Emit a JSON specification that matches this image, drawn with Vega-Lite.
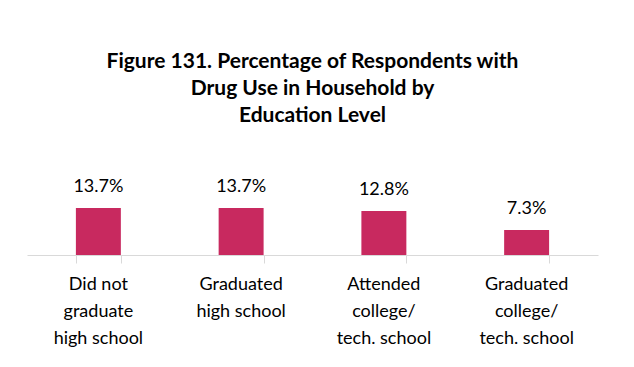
{
  "$schema": "https://vega.github.io/schema/vega-lite/v6.json",
  "width": 571,
  "height": 55,
  "autosize": {"type": "none"},
  "padding": {"left": 27, "top": 200, "right": 36, "bottom": 112},
  "background": "white",
  "title": {
    "text": ["Figure 131. Percentage of Respondents with", "Drug Use in Household by", "Education Level"],
    "font": "Lato",
    "fontSize": 21,
    "fontWeight": "bold",
    "color": "#000000",
    "lineHeight": 27,
    "anchor": "middle",
    "frame": "group",
    "offset": 52
  },
  "data": {
    "values": [
      {"level": "Did not graduate high school", "pct": 0.137},
      {"level": "Graduated high school", "pct": 0.137},
      {"level": "Attended college/ tech. school", "pct": 0.128},
      {"level": "Graduated college/ tech. school", "pct": 0.073}
    ]
  },
  "encoding": {
    "y": {
      "field": "pct",
      "type": "quantitative",
      "scale": {"domain": [0, 0.16]},
      "axis": null
    }
  },
  "layer": [
    {
      "mark": {"type": "bar", "color": "#C8295F"},
      "encoding": {
        "x": {
          "field": "level",
          "type": "nominal",
          "sort": null,
          "scale": {"paddingInner": 0.685, "paddingOuter": 0.3425},
          "axis": {
            "orient": "bottom",
            "title": null,
            "labelAngle": 0,
            "labelFont": "Lato",
            "labelFontSize": 18,
            "labelColor": "#000000",
            "labelLineHeight": 27,
            "labelPadding": 20,
            "labelBaseline": "top",
            "labelExpr": "datum.value == 'Did not graduate high school' ? ['Did not', 'graduate', 'high school'] : datum.value == 'Graduated high school' ? ['Graduated', 'high school'] : datum.value == 'Attended college/ tech. school' ? ['Attended', 'college/', 'tech. school'] : ['Graduated', 'college/', 'tech. school']",
            "ticks": false,
            "domainColor": "#d9d9d9",
            "labelLimit": 200
          }
        }
      }
    },
    {
      "mark": {"type": "text", "font": "Lato", "fontSize": 18, "color": "#000000", "baseline": "alphabetic", "dy": -16},
      "encoding": {
        "x": {
          "field": "level",
          "type": "nominal",
          "sort": null,
          "scale": {"paddingInner": 0.685, "paddingOuter": 0.3425},
          "axis": {
            "orient": "bottom",
            "title": null,
            "labels": false,
            "domain": false,
            "tickBand": "extent",
            "tickSize": 8,
            "tickColor": "#d9d9d9"
          }
        },
        "text": {"field": "pct", "type": "quantitative", "format": ".1%"}
      }
    }
  ],
  "resolve": {"axis": {"x": "independent"}},
  "config": {"view": {"stroke": null}}
}
